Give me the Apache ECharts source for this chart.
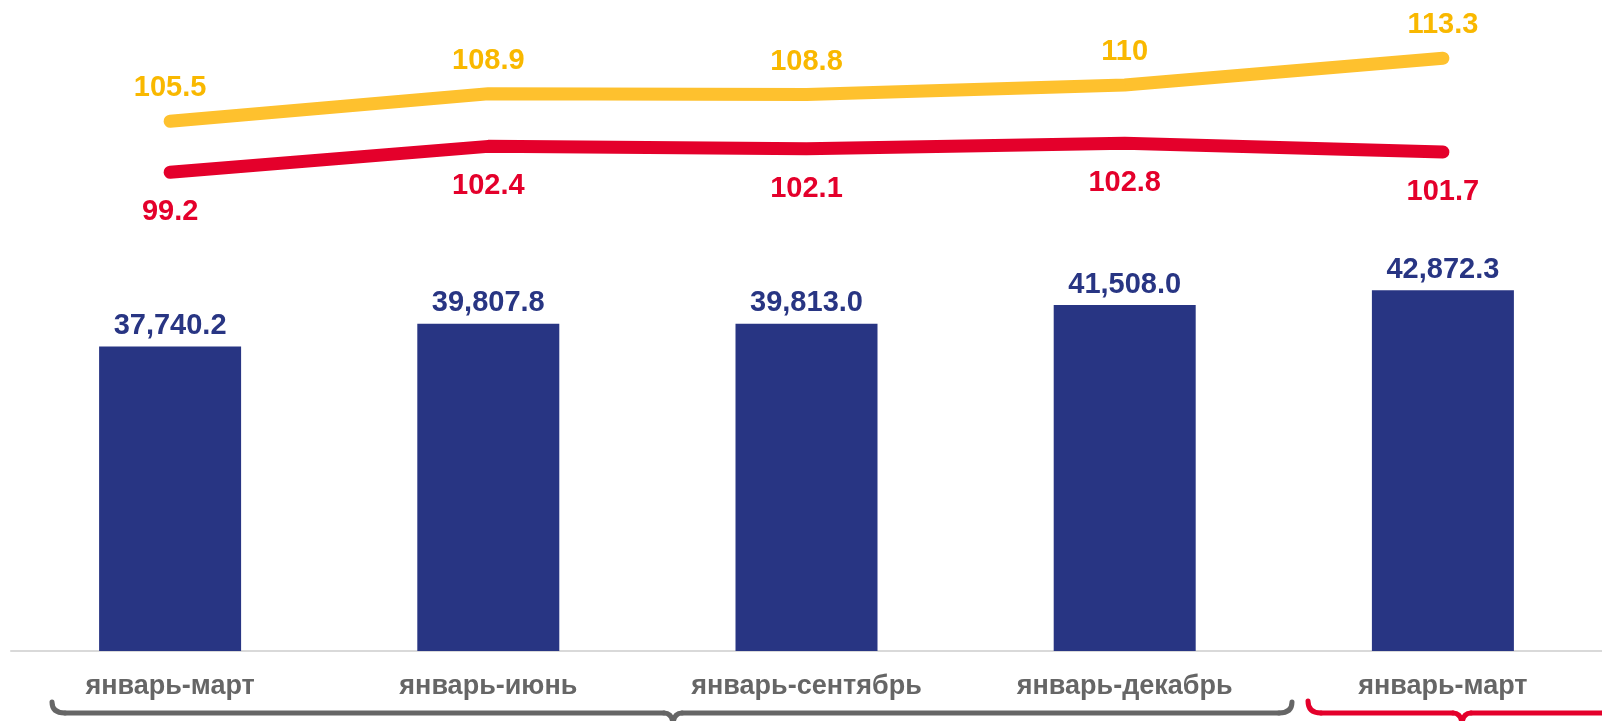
<!DOCTYPE html>
<html>
<head>
<meta charset="utf-8">
<script src="https://cdn.jsdelivr.net/npm/echarts@6/dist/echarts.min.js"></script>
<style>
html,body{margin:0;padding:0;background:#fff;}
#chart{width:1602px;height:721px;}
</style>
</head>
<body>
<div id="chart"></div>
<script>
const categories = ['январь-март', 'январь-июнь', 'январь-сентябрь', 'январь-декабрь', 'январь-март'];
const barValues = [37740.2, 39807.8, 39813.0, 41508.0, 42872.3];
const yellowValues = [105.5, 108.9, 108.8, 110, 113.3];
const redValues = [99.2, 102.4, 102.1, 102.8, 101.7];

const FONT = '"Liberation Sans", Arial, sans-serif';
const NAVY = '#283583';
const YELLOW = '#FEC12E';
const YELLOW_TXT = '#F9B800';
const RED = '#E4002B';
const GRAY = '#666666';

const chart = echarts.init(document.getElementById('chart'), null, {renderer: 'canvas'});

function brace(x1, x2, tip, color, yTop, yH, yBot, r, r2) {
  const s = {stroke: color, lineWidth: 5, lineCap: 'round', fill: null};
  return [
    {type: 'bezierCurve', shape: {x1: x1, y1: yTop, cpx1: x1, cpy1: yH, x2: x1 + r, y2: yH}, style: s, silent: true},
    {type: 'line', shape: {x1: x1 + r, y1: yH, x2: tip - r2, y2: yH}, style: s, silent: true},
    {type: 'bezierCurve', shape: {x1: tip - r2, y1: yH, cpx1: tip, cpy1: yH, x2: tip, y2: yBot}, style: s, silent: true},
    {type: 'bezierCurve', shape: {x1: tip + r2, y1: yH, cpx1: tip, cpy1: yH, x2: tip, y2: yBot}, style: s, silent: true},
    {type: 'line', shape: {x1: tip + r2, y1: yH, x2: x2 - r, y2: yH}, style: s, silent: true},
    {type: 'bezierCurve', shape: {x1: x2 - r, y1: yH, cpx1: x2, cpy1: yH, x2: x2, y2: yTop}, style: s, silent: true}
  ];
}

const option = {
  animation: false,
  textStyle: {fontFamily: FONT},
  grid: {left: 11, top: 0, width: 1595, height: 651, containLabel: false},
  xAxis: {
    type: 'category',
    data: categories,
    axisLine: {show: true, lineStyle: {color: '#d9d9d9', width: 2}},
    axisTick: {show: false},
    axisLabel: {color: GRAY, fontSize: 27, fontWeight: 'bold', fontFamily: FONT, margin: 22, interval: 0}
  },
  yAxis: [
    {type: 'value', min: 10000, max: 69300, show: false, splitLine: {show: false}},
    {type: 'value', min: 40, max: 120.5, show: false, splitLine: {show: false}}
  ],
  series: [
    {
      type: 'bar',
      data: barValues,
      barWidth: 142,
      yAxisIndex: 0,
      itemStyle: {color: NAVY},
      label: {
        show: true, position: 'top', distance: 6,
        color: NAVY, fontSize: 29, fontWeight: 'bold', fontFamily: FONT,
        formatter: p => p.value.toLocaleString('en-US', {minimumFractionDigits: 1, maximumFractionDigits: 1})
      },
      z: 1
    },
    {
      type: 'line',
      data: yellowValues,
      yAxisIndex: 1,
      symbol: 'circle', symbolSize: 1,
      itemStyle: {color: YELLOW},
      lineStyle: {color: YELLOW, width: 13, cap: 'round', join: 'round'},
      label: {show: true, position: 'top', distance: 18, color: YELLOW_TXT, fontSize: 29, fontWeight: 'bold', fontFamily: FONT},
      z: 3
    },
    {
      type: 'line',
      data: redValues,
      yAxisIndex: 1,
      symbol: 'circle', symbolSize: 1,
      itemStyle: {color: RED},
      lineStyle: {color: RED, width: 13, cap: 'round', join: 'round'},
      label: {show: true, position: 'bottom', distance: 25, color: RED, fontSize: 29, fontWeight: 'bold', fontFamily: FONT},
      z: 3
    }
  ],
  graphic: [].concat(
    brace(52, 1292, 673, GRAY, 702, 713, 726, 13, 9),
    brace(1308, 1616, 1462, RED, 701, 713, 726, 13, 9)
  )
};
chart.setOption(option);
</script>
</body>
</html>
